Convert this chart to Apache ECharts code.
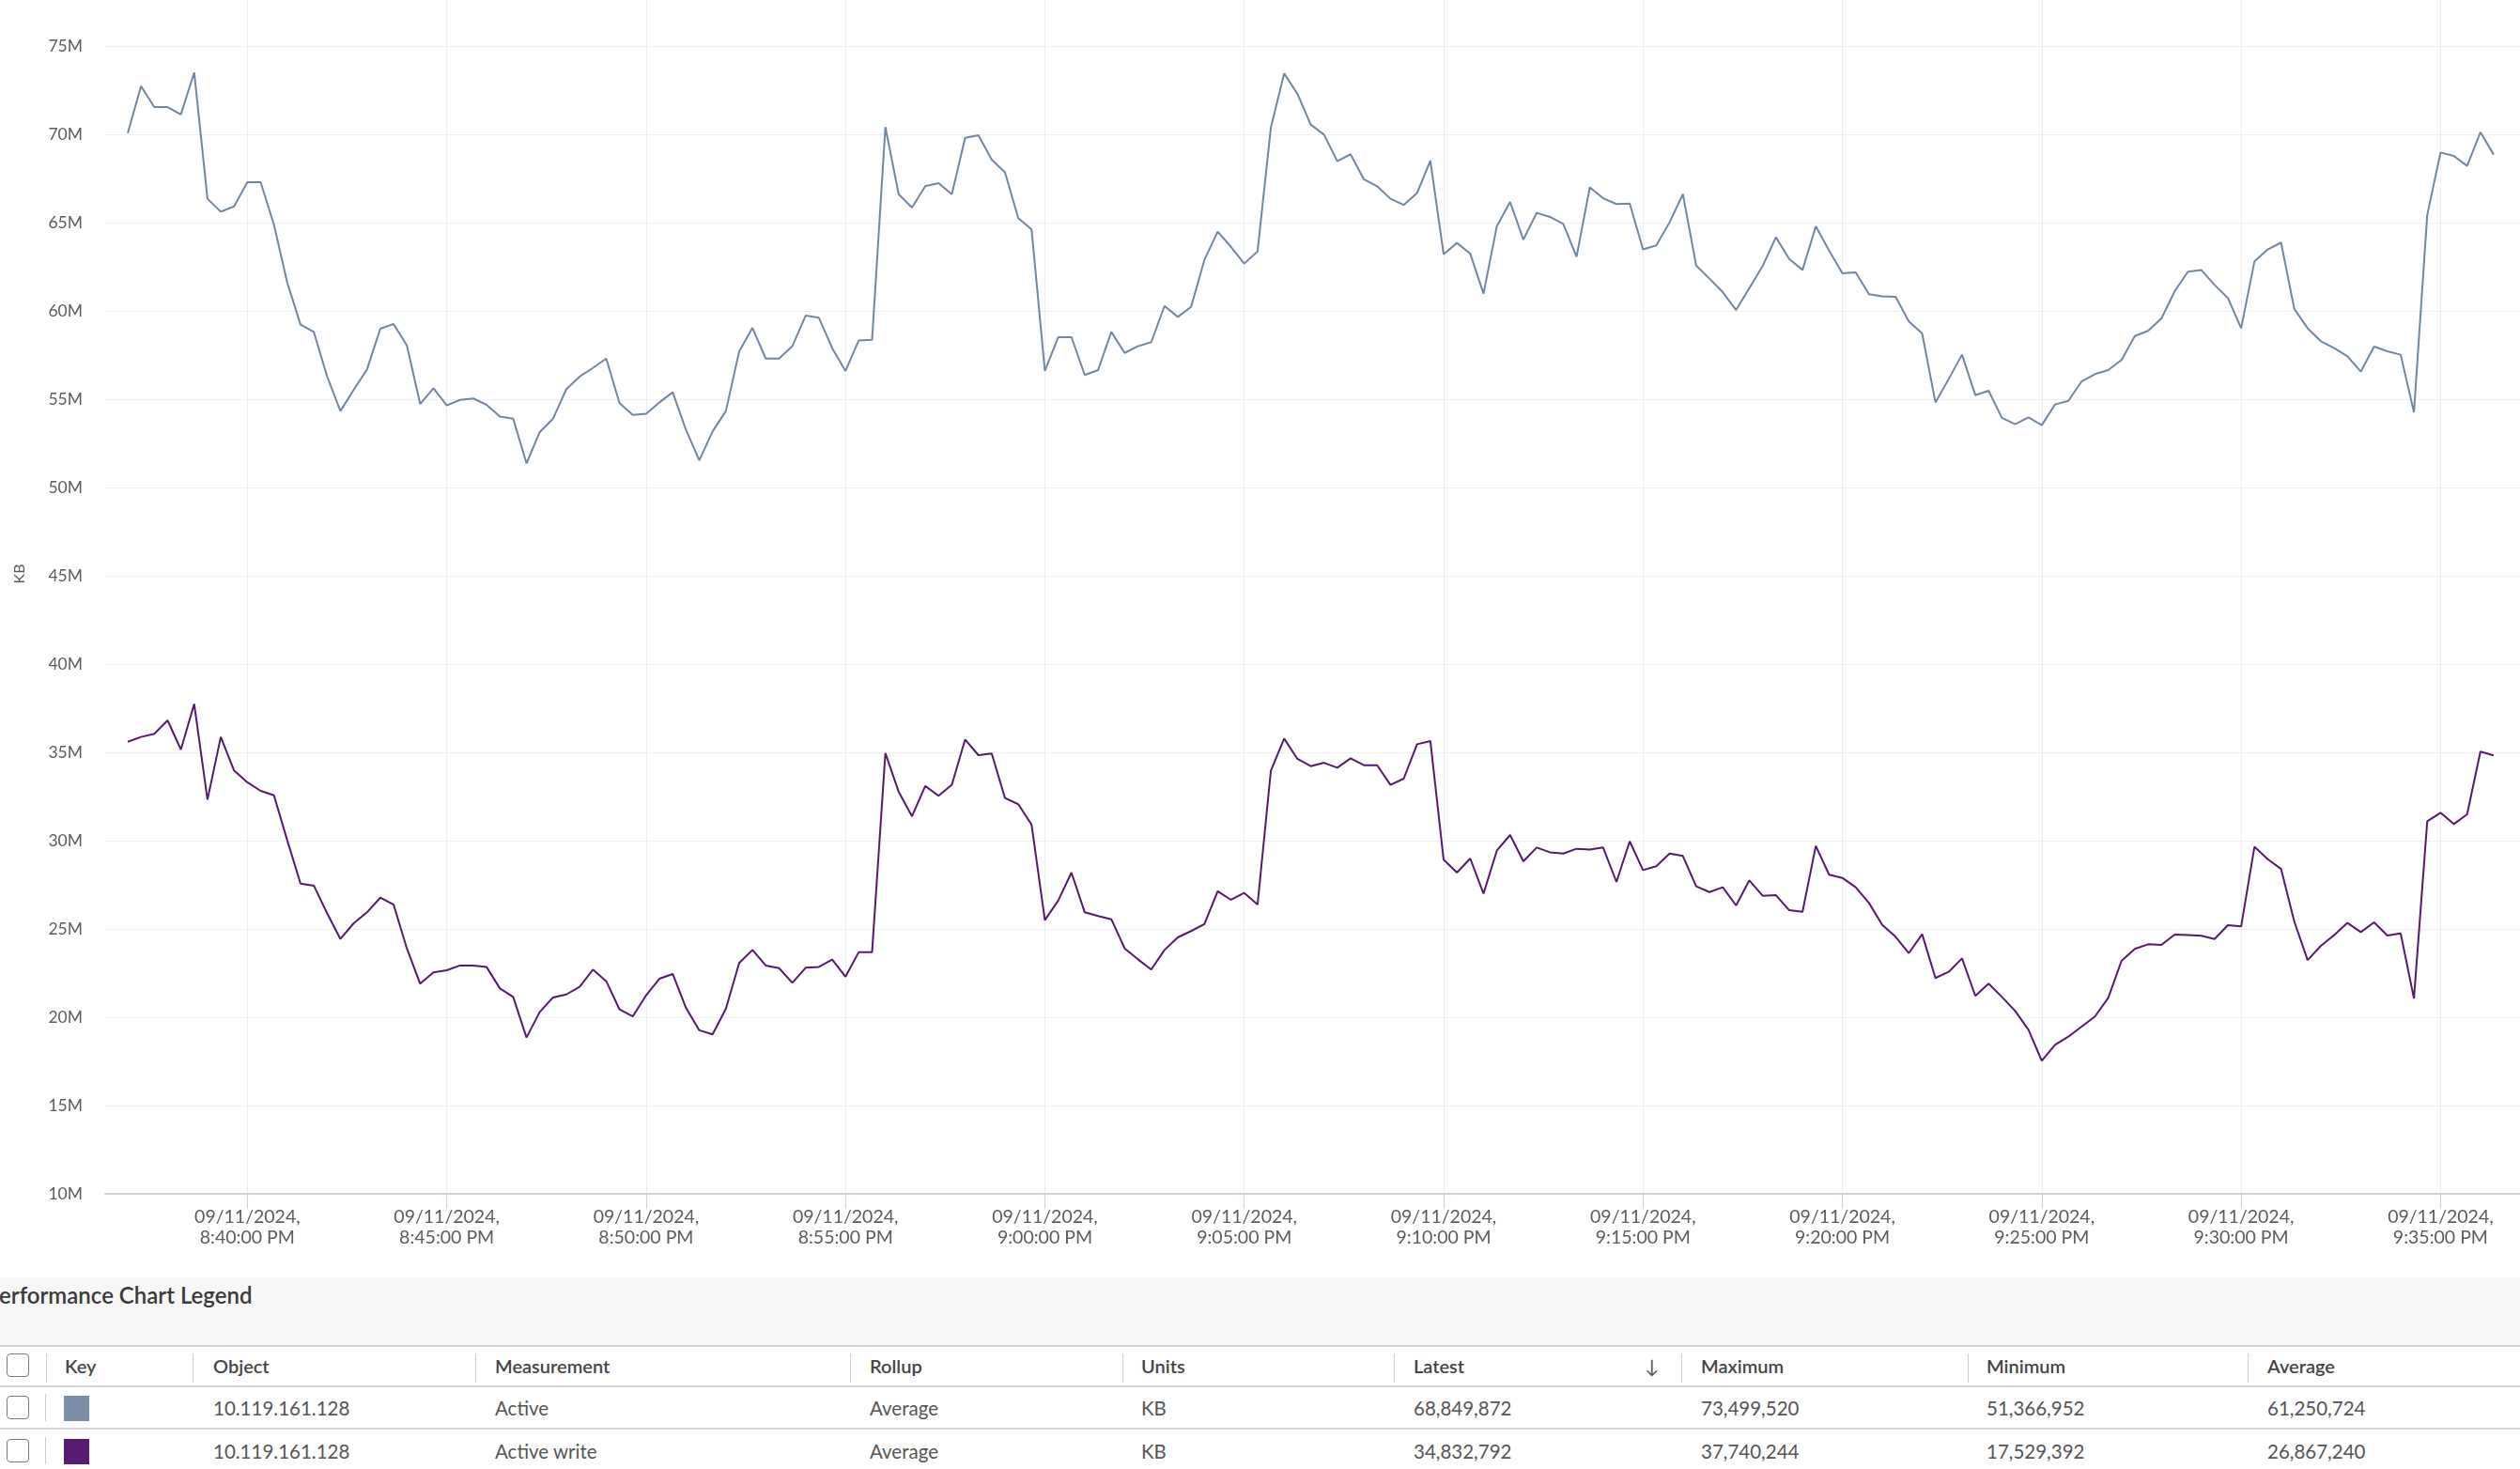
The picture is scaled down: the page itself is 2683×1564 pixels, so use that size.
<!DOCTYPE html>
<html>
<head>
<meta charset="utf-8">
<script src="https://cdn.jsdelivr.net/npm/echarts@6/dist/echarts.min.js"></script>
<style>
  html, body { margin: 0; padding: 0; background: #fff; overflow: hidden; }
  body { width: 2683px; height: 1564px; position: relative; font-family: Lato, 'Noto Sans', sans-serif; }
  #chart { position: absolute; left: 0; top: 0; width: 2683px; height: 1360px; }
  #legendPanel { position: absolute; left: 0; top: 1360px; width: 2683px; height: 72px; background: #f7f7f7; border-bottom: 2px solid #d3d3d3; overflow: hidden; }
  #legendPanel .title { position: absolute; left: -15px; top: 5px; font-size: 24px; line-height: 28px; font-weight: 600; color: #3a3a3a; white-space: nowrap; }
  .cell { position: absolute; white-space: nowrap; line-height: 24px; }
  .head { font-size: 20px; font-weight: 600; color: #454545; }
  .body { font-size: 20.5px; color: #555; }
  .sep { position: absolute; width: 1px; background: #cfcfcf; }
  .hline { position: absolute; left: 0; width: 2683px; height: 2px; background: #d6d6d6; }
  .check { position: absolute; width: 22px; height: 23px; border: 1.5px solid #7a7a7a; border-radius: 4px; background: #fff; }
  .swatch { position: absolute; width: 27px; height: 27px; }
</style>
</head>
<body>
<div id="chart"></div>
<div id="legendPanel"><div class="title">Performance Chart Legend</div></div>
<div id="legendTable"></div>
<script>
// x domain: one sample every 20 s starting 09/11/2024 8:37:00 PM
const startTime = new Date(2024, 8, 11, 20, 37, 0);
const stepSeconds = 20;

// Active (millions of KB)
const activeM = [
  70.07, 72.73, 71.54, 71.54, 71.13, 73.50, 66.35, 65.62, 65.92, 67.29,
  67.29, 64.88, 61.61, 59.22, 58.81, 56.29, 54.33, 55.53, 56.68, 58.99,
  59.26, 58.05, 54.73, 55.62, 54.65, 54.96, 55.04, 54.68, 54.02, 53.90,
  51.37, 53.14, 53.90, 55.57, 56.28, 56.77, 57.30, 54.77, 54.11, 54.17,
  54.82, 55.39, 53.26, 51.54, 53.17, 54.33, 57.70, 59.04, 57.30, 57.30,
  58.00, 59.73, 59.61, 57.89, 56.60, 58.33, 58.37, 70.41, 66.61, 65.85,
  67.06, 67.23, 66.61, 69.80, 69.95, 68.56, 67.85, 65.25, 64.61, 56.60,
  58.51, 58.51, 56.37, 56.65, 58.81, 57.62, 58.00, 58.23, 60.28, 59.66,
  60.23, 62.89, 64.49, 63.63, 62.68, 63.37, 70.37, 73.45, 72.29, 70.55,
  69.98, 68.48, 68.87, 67.45, 67.06, 66.35, 66.00, 66.67, 68.51, 63.21,
  63.85, 63.24, 60.98, 64.79, 66.17, 64.04, 65.55, 65.32, 64.93, 63.07,
  67.00, 66.38, 66.05, 66.08, 63.48, 63.71, 65.02, 66.61, 62.57, 61.83,
  61.06, 60.05, 61.29, 62.54, 64.17, 62.94, 62.32, 64.79, 63.42, 62.13,
  62.18, 60.94, 60.82, 60.80, 59.40, 58.72, 54.82, 56.15, 57.52, 55.23,
  55.48, 53.94, 53.58, 53.97, 53.53, 54.70, 54.91, 56.01, 56.42, 56.65,
  57.22, 58.58, 58.87, 59.57, 61.12, 62.22, 62.32, 61.47, 60.73, 59.02,
  62.80, 63.48, 63.87, 60.11, 59.02, 58.28, 57.89, 57.43, 56.56, 57.98,
  57.71, 57.52, 54.26, 65.43, 68.97, 68.78, 68.21, 70.12, 68.85
];

// Active write (millions of KB)
const activeWriteM = [
  35.60, 35.87, 36.05, 36.81, 35.16, 37.74, 32.32, 35.87, 33.97, 33.30,
  32.82, 32.57, 30.02, 27.57, 27.45, 25.89, 24.43, 25.32, 25.94, 26.77,
  26.38, 23.90, 21.90, 22.54, 22.66, 22.93, 22.93, 22.84, 21.63, 21.15,
  18.85, 20.30, 21.12, 21.29, 21.72, 22.70, 22.04, 20.44, 20.05, 21.24,
  22.18, 22.45, 20.53, 19.26, 19.03, 20.48, 23.07, 23.81, 22.93, 22.78,
  21.95, 22.80, 22.85, 23.26, 22.30, 23.69, 23.69, 34.95, 32.77, 31.38,
  33.09, 32.54, 33.16, 35.73, 34.84, 34.93, 32.41, 32.06, 30.90, 25.50,
  26.60, 28.19, 25.94, 25.73, 25.55, 23.90, 23.28, 22.70, 23.81, 24.52,
  24.88, 25.27, 27.13, 26.65, 27.04, 26.38, 33.95, 35.78, 34.63, 34.22,
  34.41, 34.13, 34.66, 34.27, 34.27, 33.16, 33.51, 35.46, 35.64, 28.92,
  28.19, 28.99, 27.00, 29.43, 30.32, 28.83, 29.61, 29.34, 29.27, 29.54,
  29.49, 29.61, 27.66, 29.96, 28.33, 28.55, 29.27, 29.13, 27.41, 27.09,
  27.36, 26.33, 27.75, 26.88, 26.91, 26.06, 25.97, 29.70, 28.07, 27.89,
  27.36, 26.47, 25.23, 24.56, 23.63, 24.70, 22.22, 22.57, 23.33, 21.21,
  21.90, 21.15, 20.35, 19.29, 17.53, 18.44, 18.90, 19.47, 20.04, 21.10,
  23.19, 23.87, 24.13, 24.10, 24.68, 24.66, 24.61, 24.43, 25.21, 25.14,
  29.65, 28.95, 28.40, 25.41, 23.24, 24.04, 24.65, 25.34, 24.82, 25.37,
  24.63, 24.75, 21.06, 31.10, 31.58, 30.94, 31.49, 35.04, 34.83
];

// y ticks (M KB)
const yMin = 10;
const yMax = 75;
const yStep = 5;
// x labels every 5 minutes = every 15 samples, first at 8:40:00 PM
const labelEvery = 15;
const firstLabelIndex = 9;

// legend table
const legendColumns = ['Key', 'Object', 'Measurement', 'Rollup', 'Units', 'Latest', 'Maximum', 'Minimum', 'Average'];
const legendRows = [
  { color: '#7a8ea7', object: '10.119.161.128', measurement: 'Active', rollup: 'Average', units: 'KB', latest: '68,849,872', maximum: '73,499,520', minimum: '51,366,952', average: '61,250,724' },
  { color: '#561a72', object: '10.119.161.128', measurement: 'Active write', rollup: 'Average', units: 'KB', latest: '34,832,792', maximum: '37,740,244', minimum: '17,529,392', average: '26,867,240' }
];

const pad = (n) => String(n).padStart(2, '0');
const fmtTime = (d) => {
  const h = d.getHours() % 12 || 12;
  const ap = d.getHours() < 12 ? 'AM' : 'PM';
  return pad(d.getMonth() + 1) + '/' + pad(d.getDate()) + '/' + d.getFullYear() + ',\n'
    + h + ':' + pad(d.getMinutes()) + ':' + pad(d.getSeconds()) + ' ' + ap;
};
const categories = activeM.map((_, i) => fmtTime(new Date(startTime.getTime() + i * stepSeconds * 1000)));
const isMark = (index) => (index - firstLabelIndex) % labelEvery === 0 && index >= firstLabelIndex;

// frame grid: 75M line at y=49, axis at y=1271; data grid runs to the top edge
const frameTop = 49;
const axisY = 1271;
const chartH = 1360;
const dataTop = 0;
const dataMax = yMax + (frameTop - dataTop) * (yMax - yMin) / (axisY - frameTop);

const chart = echarts.init(document.getElementById('chart'));
chart.setOption({
  animation: false,
  grid: [
    { left: 112, right: 0, top: frameTop, bottom: chartH - axisY },   // horizontal grid + axis line
    { left: 136, right: 28, top: dataTop, bottom: chartH - axisY }    // data + vertical grid
  ],
  xAxis: [
    {
      gridIndex: 0, type: 'value', min: 0, max: 1,
      axisLine: { show: true, onZero: false, lineStyle: { color: '#cbd5e2', width: 2 } },
      axisTick: { show: false }, axisLabel: { show: false }, splitLine: { show: false }
    },
    {
      gridIndex: 1, type: 'category', boundaryGap: false, data: categories,
      axisLine: { show: false },
      axisTick: { show: true, interval: isMark, length: 16, lineStyle: { color: '#cbd5e2', width: 1 } },
      axisLabel: {
        interval: isMark, margin: 14, color: '#5c5c5c', fontSize: 19.5, lineHeight: 22,
        fontFamily: 'Lato', align: 'center'
      },
      splitLine: { show: true, interval: isMark, lineStyle: { color: '#eceef1', width: 1 } }
    }
  ],
  yAxis: [
    {
      gridIndex: 0, type: 'value', min: yMin, max: yMax, interval: yStep,
      axisLine: { show: false }, axisTick: { show: false },
      axisLabel: { formatter: '{value}M', margin: 24, color: '#5c5c5c', fontSize: 17.5, fontFamily: 'Lato' },
      splitLine: { lineStyle: { color: '#efefef', width: 1 } }
    },
    { gridIndex: 1, type: 'value', min: yMin, max: dataMax, show: false }
  ],
  graphic: [{
    type: 'text', x: 21, y: 611, rotation: Math.PI / 2,
    style: { text: 'KB', fill: '#5c5c5c', fontSize: 16, fontFamily: 'Lato', align: 'center', verticalAlign: 'middle' }
  }],
  series: [
    {
      name: 'Active', type: 'line', xAxisIndex: 1, yAxisIndex: 1, data: activeM,
      showSymbol: false, symbol: 'none', lineStyle: { color: '#7087a3', width: 2 }, itemStyle: { color: '#7087a3' }
    },
    {
      name: 'Active write', type: 'line', xAxisIndex: 1, yAxisIndex: 1, data: activeWriteM,
      showSymbol: false, symbol: 'none', lineStyle: { color: '#541a72', width: 2 }, itemStyle: { color: '#541a72' }
    }
  ]
});

// legend table below the chart
const table = document.getElementById('legendTable');
const headX = [69, 227, 527, 926, 1215, 1505, 1811, 2115, 2414];
const sepX = [49, 205, 506, 905, 1195, 1484, 1790, 2095, 2393];
const rowKeys = ['object', 'measurement', 'rollup', 'units', 'latest', 'maximum', 'minimum', 'average'];
const add = (html) => table.insertAdjacentHTML('beforeend', html);

add('<div class="hline" style="top:1475px"></div>');
add('<div class="hline" style="top:1520px"></div>');
add('<div class="check" style="left:7px;top:1441px"></div>');
sepX.forEach((x) => add(`<div class="sep" style="left:${x}px;top:1441px;height:31px"></div>`));
legendColumns.forEach((c, k) => add(`<div class="cell head" style="left:${headX[k]}px;top:1442px">${c}</div>`));
add('<div class="cell head" style="left:1751px;top:1442px;font-weight:400;color:#555">&#8595;</div>');

legendRows.forEach((r, j) => {
  const top = 1476 + j * 46;
  add(`<div class="check" style="left:7px;top:${top + 10}px"></div>`);
  add(`<div class="sep" style="left:48px;top:${top + 8}px;height:29px"></div>`);
  add(`<div class="swatch" style="left:68px;top:${top + 10}px;background:${r.color}"></div>`);
  rowKeys.forEach((key, k) => add(`<div class="cell body" style="left:${headX[k + 1]}px;top:${top + 11}px">${r[key]}</div>`));
});
</script>
</body>
</html>
